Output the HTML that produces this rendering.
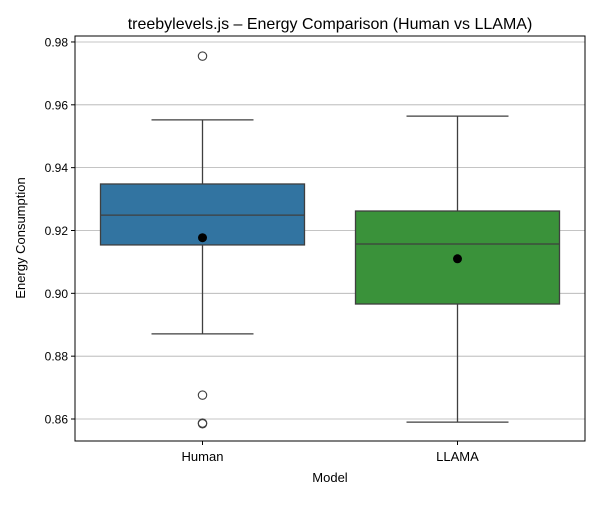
<!DOCTYPE html>
<html><head><meta charset="utf-8"><style>
body{margin:0;background:#fff}
svg text{font-family:"Liberation Sans","DejaVu Sans",sans-serif;fill:#000}
</style></head><body>
<svg id="chart" width="600" height="500" xmlns="http://www.w3.org/2000/svg">
<rect width="600" height="500" fill="#fff"/>
<g id="grid"></g><g id="boxes"></g><g id="axes"></g>
<text x="330" y="29" text-anchor="middle" font-size="16">treebylevels.js – Energy Comparison (Human vs LLAMA)</text>
<text x="330" y="482" text-anchor="middle" font-size="13">Model</text>
<text transform="translate(25,238) rotate(-90)" text-anchor="middle" font-size="13">Energy Consumption</text>
</svg>
<script>
const categories=["Human","LLAMA"];
const colors=["#3274a1","#3a923a"];
const whiskerHigh=[0.9552,0.9564];
const q3=[0.9348,0.9262];
const medians=[0.9249,0.9157];
const q1=[0.9154,0.8966];
const whiskerLow=[0.8871,0.8590];
const means=[0.9177,0.9110];
const outliers=[[0.9755,0.8676,0.8587,0.8585],[]];
const yTicks=[0.86,0.88,0.90,0.92,0.94,0.96,0.98];
const yTickLabels=["0.86","0.88","0.90","0.92","0.94","0.96","0.98"];

const L=75,R=585,T=36,B=441,ymin=0.8530,ymax=0.9819;
const NS="http://www.w3.org/2000/svg";
const y=v=>B-(v-ymin)/(ymax-ymin)*(B-T);
const band=(R-L)/categories.length;
const xc=i=>L+band*(i+0.5);
function mk(par,tag,attrs){const e=document.createElementNS(NS,tag);for(const k in attrs)e.setAttribute(k,attrs[k]);document.getElementById(par).appendChild(e);return e;}
yTicks.forEach((t,i)=>{
 const g=mk('grid','line',{x1:L,x2:R,y1:y(t),y2:y(t),stroke:'#b0b0b0','stroke-width':0.8});
 
 
 const tk=mk('axes','line',{x1:L-4,x2:L,y1:y(t),y2:y(t),stroke:'#000'});
 
 
 const tx=mk('axes','text',{x:L-7,y:y(t)+4.5,'text-anchor':'end','font-size':12});
 tx.textContent=yTickLabels[i];
 
 
});
const ec='#3f3f3f';
categories.forEach((c,i)=>{
 const cx=xc(i),w=band*0.8,cw=w/4;
 const g=mk('boxes','g',{});
 
 
 const add=(tag,a)=>{const e=document.createElementNS(NS,tag);for(const k in a)e.setAttribute(k,a[k]);g.appendChild(e);return e;};
 add('line',{x1:cx,x2:cx,y1:y(q3[i]),y2:y(whiskerHigh[i]),stroke:ec,'stroke-width':1.3});
 add('line',{x1:cx,x2:cx,y1:y(q1[i]),y2:y(whiskerLow[i]),stroke:ec,'stroke-width':1.3});
 add('line',{x1:cx-cw,x2:cx+cw,y1:y(whiskerHigh[i]),y2:y(whiskerHigh[i]),stroke:ec,'stroke-width':1.3});
 add('line',{x1:cx-cw,x2:cx+cw,y1:y(whiskerLow[i]),y2:y(whiskerLow[i]),stroke:ec,'stroke-width':1.3});
 add('rect',{x:cx-w/2,y:y(q3[i]),width:w,height:y(q1[i])-y(q3[i]),fill:colors[i],stroke:ec,'stroke-width':1.3});
 add('line',{x1:cx-w/2,x2:cx+w/2,y1:y(medians[i]),y2:y(medians[i]),stroke:ec,'stroke-width':1.3});
 outliers[i].forEach(o=>add('circle',{cx:cx,cy:y(o),r:4.2,fill:'none',stroke:ec,'stroke-width':1.1}));
 add('circle',{cx:cx,cy:y(means[i]),r:4.5,fill:'#000'});
 const tk=mk('axes','line',{x1:cx,x2:cx,y1:B,y2:B+4,stroke:'#000'});
 
 
 const tx=mk('axes','text',{x:cx,y:B+20,'text-anchor':'middle','font-size':13});
 tx.textContent=c;
 
 
});
const fr=mk('axes','rect',{x:L,y:T,width:R-L,height:B-T,fill:'none',stroke:'#000','stroke-width':1});


</script>
</body></html>
